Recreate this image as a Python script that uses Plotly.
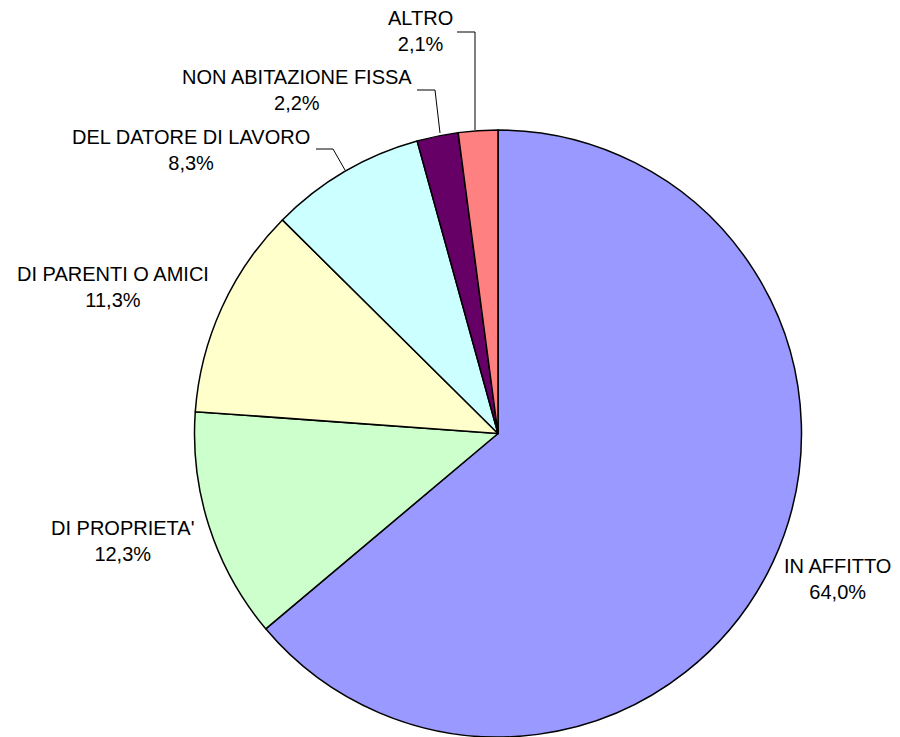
import plotly.graph_objects as go

# page body has an 8px margin, so the figure is a bit smaller than the window
OFF = 8
W, H = 900 - OFF, 737 - OFF

# data (clockwise from 12 o'clock)
categories = ["IN AFFITTO", "DI PROPRIETA'", "DI PARENTI O AMICI",
              "DEL DATORE DI LAVORO", "NON ABITAZIONE FISSA", "ALTRO"]
shares = [64.0, 12.3, 11.3, 8.3, 2.2, 2.1]
share_labels = ["64,0%", "12,3%", "11,3%", "8,3%", "2,2%", "2,1%"]

COLORS = ["#9999FF", "#CCFFCC", "#FFFFCC", "#CCFFFF", "#660066", "#FF8080"]

# label centres in window pixels, same order as categories
LABEL_POS = [(837, 579), (122, 541), (113, 287), (191, 150), (297, 90), (420, 31)]

# leader lines (window pixel polylines) for the small slices
LEADERS = [
    [(316, 149), (333, 149), (345, 170)],
    [(417, 90), (435, 90), (440, 133)],
    [(457, 32), (475, 32), (475, 130)],
]

CX, CY, R = 498, 435, 305


def px(x):
    return (x - OFF) / W


def py(y):
    return 1 - (y - OFF) / H


fig = go.Figure(go.Pie(
    labels=categories,
    values=shares,
    sort=False,
    direction="clockwise",
    rotation=0,
    textinfo="none",
    hoverinfo="label+percent",
    marker=dict(colors=COLORS, line=dict(color="black", width=1.5)),
    domain=dict(x=[px(CX - R), px(CX + R)], y=[0, py(CY - R)]),
    showlegend=False,
))

for name, pct, (x, y) in zip(categories, share_labels, LABEL_POS):
    fig.add_annotation(
        x=px(x), y=py(y), xref="paper", yref="paper",
        text=f"{name}<br>{pct}", showarrow=False,
        xanchor="center", yanchor="middle", align="center",
        font=dict(size=20, color="black"),
    )

for pts in LEADERS:
    path = "M " + " L ".join(f"{px(a)},{py(b)}" for a, b in pts)
    fig.add_shape(type="path", path=path, xref="paper", yref="paper",
                  line=dict(color="black", width=1))

fig.update_layout(
    width=W, height=H,
    margin=dict(l=0, r=0, t=0, b=0),
    paper_bgcolor="white",
    plot_bgcolor="white",
    font=dict(family="Liberation Sans, Arial, sans-serif", color="black"),
)

fig.write_html("out.html")
